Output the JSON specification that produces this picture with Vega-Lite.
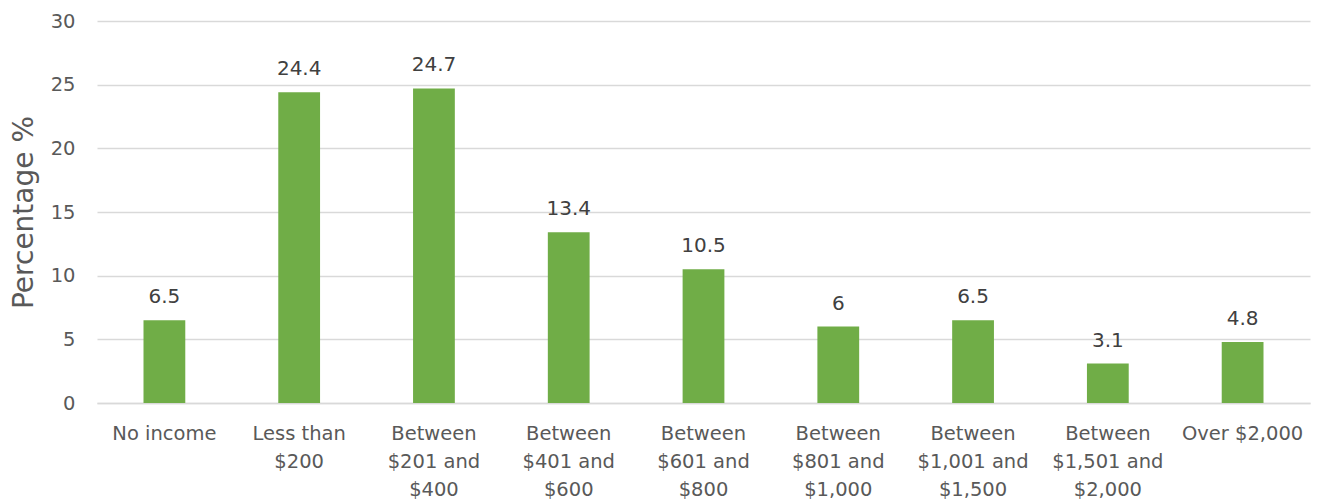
{
  "$schema": "https://vega.github.io/schema/vega-lite/v6.json",
  "width": 1213,
  "height": 382,
  "autosize": {"type": "none"},
  "padding": {"left": 97, "top": 21, "right": 7, "bottom": 101},
  "background": "white",
  "config": {
    "view": {"stroke": null},
    "font": "DejaVu Sans"
  },
  "data": {
    "values": [
      {"cat": "No income", "value": 6.5},
      {"cat": "Less than|$200", "value": 24.4},
      {"cat": "Between|$201 and|$400", "value": 24.7},
      {"cat": "Between|$401 and|$600", "value": 13.4},
      {"cat": "Between|$601 and|$800", "value": 10.5},
      {"cat": "Between|$801 and|$1,000", "value": 6},
      {"cat": "Between|$1,001 and|$1,500", "value": 6.5},
      {"cat": "Between|$1,501 and|$2,000", "value": 3.1},
      {"cat": "Over $2,000", "value": 4.8}
    ]
  },
  "encoding": {
    "x": {
      "field": "cat", "type": "nominal", "sort": null,
      "scale": {"paddingInner": 0.69, "paddingOuter": 0.345},
      "axis": {
        "title": null, "labelAngle": 0, "domain": true, "domainColor": "#d9d9d9", "domainWidth": 1.5,
        "ticks": false, "labelPadding": 21, "labelFontSize": 19.5, "labelColor": "#595959",
        "labelLineHeight": 28, "labelExpr": "split(datum.label, '|')", "labelBaseline": "top"
      }
    },
    "y": {
      "field": "value", "type": "quantitative",
      "scale": {"domain": [0, 30]},
      "axis": {
        "title": "Percentage %", "titleFontSize": 28, "titleFontWeight": "normal", "titleColor": "#595959",
        "titlePadding": 12,
        "values": [0, 5, 10, 15, 20, 25, 30], "domain": false, "ticks": false,
        "gridColor": "#d9d9d9", "gridWidth": 1.5,
        "labelFontSize": 19.5, "labelColor": "#595959", "labelPadding": 22
      }
    }
  },
  "layer": [
    {"mark": {"type": "bar", "color": "#70AD47"}},
    {
      "mark": {"type": "text", "dy": -13, "baseline": "bottom", "fontSize": 20, "color": "#404040"},
      "encoding": {"text": {"field": "value", "type": "quantitative"}}
    }
  ]
}
